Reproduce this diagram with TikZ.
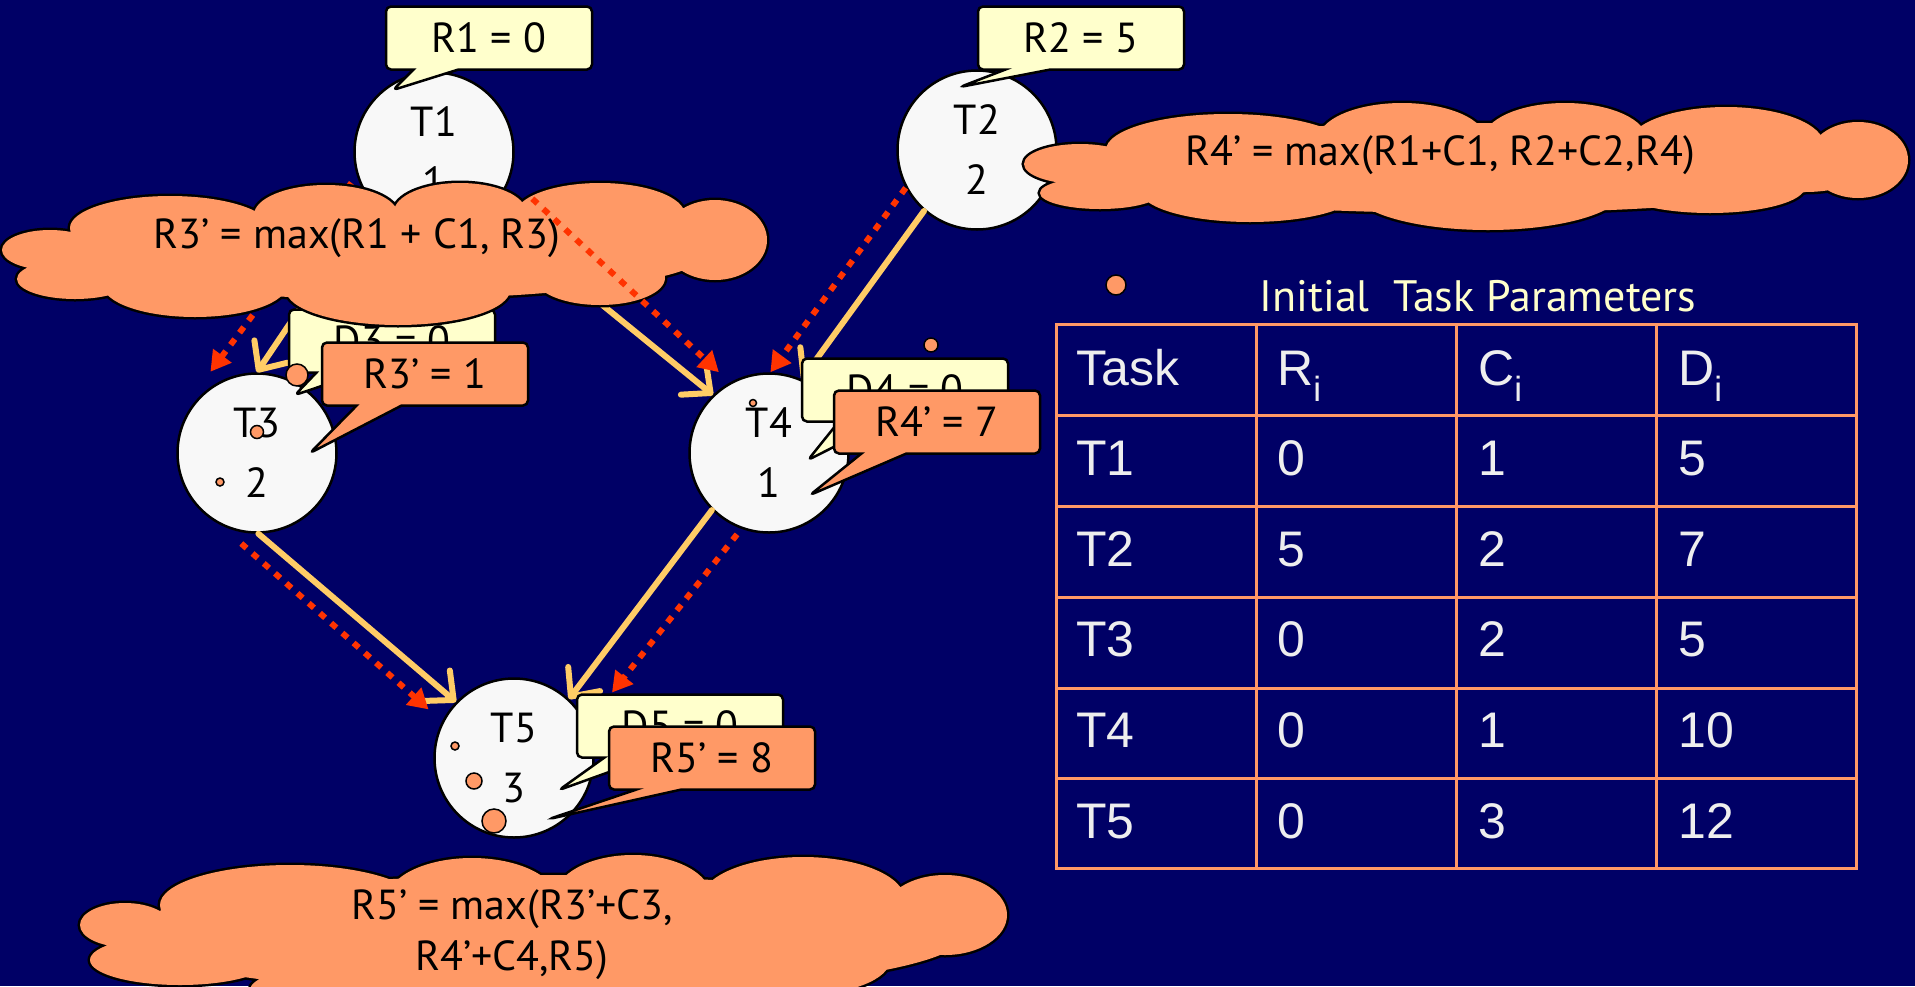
\documentclass[tikz,border=0pt]{standalone}
\usepackage{fontspec}
\setmainfont{PT Sans}
\newfontfamily\tablefont{Liberation Sans}
\usetikzlibrary{arrows.meta,shapes.callouts,calc}

\definecolor{slidebg}{RGB}{0,0,102}
\definecolor{bubbleorange}{RGB}{255,153,102}
\definecolor{noteyellow}{RGB}{255,255,204}
\definecolor{edgeyellow}{RGB}{255,204,102}
\definecolor{edgered}{RGB}{255,51,0}
\definecolor{taskwhite}{RGB}{248,248,248}
\definecolor{cellgray}{RGB}{238,238,238}

% cloud bumps: x/y/x radius/y radius
\def\rthreepuffs{50/250/48/20, 75/279/58/20, 170/228/100/32, 195/285/92/32,
  326/215/72/30, 460/212/66/29, 600/215/85/32, 715/240/52/40, 600/278/65/27,
  398/290/112/35, 385/254/320/45}
\def\rfourpuffs{1080/164/56/20, 1100/193/60/16, 1228/150/122/36, 1402/140/84/37,
  1565/140/82/37, 1726/145/98/38, 1858/160/50/38, 1805/170/60/22, 1250/190/110/32,
  1488/190/135/40, 1710/187/95/26, 1467/168/400/45}
\def\rfivepuffs{125/925/45/22, 290/905/130/40, 472/900/85/42, 633/897/78/42,
  803/900/102/43, 945/915/62/40, 180/960/90/25, 800/960/90/35, 544/935/420/60,
  500/990/250/40}

\tikzset{
  task/.style={circle, draw=black, line width=2.5pt, fill=taskwhite,
    minimum size=159pt, inner sep=0pt, align=center,
    font=\fontsize{42}{60}\selectfont},
  prec/.style={edgeyellow, line width=6pt, line cap=round,
    -{Straight Barb[length=22pt,width=40pt,round]}},
  prop/.style={edgered, line width=6pt, dash pattern=on 7pt off 8pt,
    -{Triangle[length=20pt,width=22pt]}},
  note/.style={rectangle callout, draw=black, line width=2.5pt,
    rounded corners=5pt, minimum width=206pt, minimum height=63pt,
    inner sep=0pt, callout pointer width=45pt,
    font=\fontsize{42}{48}\selectfont},
  given/.style={note, fill=noteyellow},
  derived/.style={note, fill=bubbleorange},
  puffedge/.style={draw=black, line width=5pt, fill=bubbleorange},
  eqtext/.style={font=\fontsize{42}{51}\selectfont, align=center},
  blob/.style={draw=black, line width=1.5pt, fill=bubbleorange},
  cellline/.style={draw=bubbleorange, line width=3pt},
  celltext/.style={anchor=base west, inner sep=0pt, text=cellgray,
    font=\tablefont\fontsize{50}{60}\selectfont},
}

\begin{document}
\begin{tikzpicture}[x=1pt,y=-1pt]

  % slide is 1915 x 986, one unit is one pixel, y grows downwards
  \fill[slidebg] (0,0) rectangle (1915,986);
  \useasboundingbox (0,0) rectangle (1915,986);

  % table: columns 200 wide from 1056, rows about 91 high from 324
  \node[anchor=base, text=noteyellow, font=\fontsize{44}{50}\selectfont]
    (paramtitle) at (1478,311) {Initial\ \ Task Parameters};
  \filldraw[blob] (1116,285) circle (10pt);

  \draw[cellline] (1056,324) rectangle (1856,868);
  \draw[cellline] (1256,324) -- (1256,868);
  \draw[cellline] (1456,324) -- (1456,868);
  \draw[cellline] (1656,324) -- (1656,868);
  \draw[cellline] (1056,415) -- (1856,415);
  \draw[cellline] (1056,506) -- (1856,506);
  \draw[cellline] (1056,597) -- (1856,597);
  \draw[cellline] (1056,688) -- (1856,688);
  \draw[cellline] (1056,778) -- (1856,778);

  \node[celltext] (headtask) at (1076,385) {Task};
  \node[celltext] (headrel)  at (1277,385) {R\textsubscript{i}};
  \node[celltext] (headcost) at (1478,385) {C\textsubscript{i}};
  \node[celltext] (headdead) at (1678,385) {D\textsubscript{i}};
  % baselines 385 + 90.6*k
  \foreach \tname/\rv/\cv/\dv [count=\k] in {T1/0/1/5,T2/5/2/7,T3/0/2/5,T4/0/1/10,T5/0/3/12}{
    \node[celltext] (task\k) at (1076,385+90.6*\k) {\tname};
    \node[celltext] (rel\k)  at (1277,385+90.6*\k) {\rv};
    \node[celltext] (cost\k) at (1478,385+90.6*\k) {\cv};
    \node[celltext] (dead\k) at (1678,385+90.6*\k) {\dv};
  }

  % task graph, radius about 80
  \node[task] (T1) at (434,152) {T1\\1};
  \node[task] (T2) at (977,150) {T2\\2};
  \node[task] (T3) at (257,453) {T3\\2};
  \node[task] (T4) at (769,453) {T4\\1};
  \node[task] (T5) at (514,758) {T5\\3};

  \draw[prec] (T1.219) -- (T3.90);
  \draw[prop, shorten <=9pt, shorten >=22pt] (T1.197) -- ([xshift=-10pt]T3.128);
  \draw[prec] (T1.312) -- (T4.134);
  \draw[prec] (T2.229) -- (T4.66);
  \draw[prop] (T2.208) -- (T4.89);
  \draw[prec] (T3.271) -- (T5.136);
  \draw[prop, shorten <=28pt, shorten >=18pt] (T3.243) -- (T5.153);
  \draw[prec] (T4.225) -- (T5.47);
  \draw[prop, shorten <=7pt, shorten >=40pt] (T4.250) -- (T5.25);

  % given values
  \node[given, callout absolute pointer={($(T1)+(-41,-62)$)}] (r1note) at (489,38) {R1 = 0};
  \node[given, callout absolute pointer={($(T2)+(-17,-63)$)}] (r2note) at (1081,38) {R2 = 5};
  \node[given, callout absolute pointer={($(T3)+(38,-58)$)}] (d3note) at (392,341) {D3 = 0};
  \node[given, callout absolute pointer={($(T4)+(39,7)$)}] (d4note) at (905,390) {D4 = 0};
  \node[given, callout absolute pointer={($(T5)+(45,32)$)}] (d5note) at (680,726) {D5 = 0};

  % update rules, clouds: outline pass then fill pass
  \filldraw[puffedge] foreach \cx/\cy/\rx/\ry in \rthreepuffs {(\cx,\cy) ellipse (\rx pt and \ry pt)};
  \fill[bubbleorange] foreach \cx/\cy/\rx/\ry in \rthreepuffs {(\cx,\cy) ellipse (\rx pt and \ry pt)};
  \node[eqtext] (r3eq) at (357,238) {R3’ = max(R1 + C1, R3)};

  \filldraw[puffedge] foreach \cx/\cy/\rx/\ry in \rfourpuffs {(\cx,\cy) ellipse (\rx pt and \ry pt)};
  \fill[bubbleorange] foreach \cx/\cy/\rx/\ry in \rfourpuffs {(\cx,\cy) ellipse (\rx pt and \ry pt)};
  \node[eqtext] (r4eq) at (1440,155) {R4’ = max(R1+C1, R2+C2,R4)};

  \filldraw[puffedge] foreach \cx/\cy/\rx/\ry in \rfivepuffs {(\cx,\cy) ellipse (\rx pt and \ry pt)};
  \fill[bubbleorange] foreach \cx/\cy/\rx/\ry in \rfivepuffs {(\cx,\cy) ellipse (\rx pt and \ry pt)};
  \node[eqtext] (r5eq) at (512,935) {R5’ = max(R3’+C3,\\R4’+C4,R5)};

  \draw[prop, shorten <=30pt, shorten >=15pt] (T1.341) -- (T4.119);

  % new release times
  \node[derived, callout absolute pointer={($(T3)+(53,0)$)}] (r3new) at (425,374) {R3’ = 1};
  \node[derived, callout absolute pointer={($(T4)+(41,42)$)}] (r4new) at (937,422) {R4’ = 7};
  \node[derived, callout absolute pointer={($(T5)+(35,61)$)}] (r5new) at (712,758) {R5’ = 8};

  \filldraw[blob] (297,375) circle (11pt);
  \filldraw[blob] (257,432) circle (6.5pt);
  \filldraw[blob] (220,482) circle (4pt);
  \filldraw[blob] (753,403) circle (3.5pt);
  \filldraw[blob] (931,345) circle (7pt);
  \filldraw[blob] (455,746) circle (4pt);
  \filldraw[blob] (474,781) circle (8pt);
  \filldraw[blob] (494,821) circle (12pt);

\end{tikzpicture}
\end{document}
